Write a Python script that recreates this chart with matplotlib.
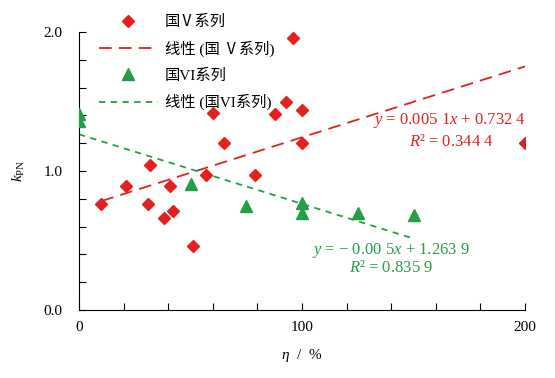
import matplotlib
matplotlib.use('agg')
import matplotlib.pyplot as plt
import numpy as np
from matplotlib.ticker import MultipleLocator

plt.rcParams['font.family'] = ['Liberation Serif', 'Noto Sans CJK SC']
plt.rcParams['mathtext.fontset'] = 'custom'
plt.rcParams['mathtext.rm'] = 'Liberation Serif'
plt.rcParams['mathtext.it'] = 'Liberation Serif:italic'

# data
v_eta = [10, 21, 31, 32, 38, 41, 42, 51, 57, 60, 65, 79, 88, 93, 96, 100, 100, 200]
v_k = [0.76, 0.89, 0.76, 1.04, 0.66, 0.89, 0.71, 0.46, 0.97, 1.42, 1.20, 0.97,
       1.41, 1.50, 1.96, 1.44, 1.20, 1.20]
vi_eta = [0, 0, 50, 75, 100, 100, 125, 150]
vi_k = [1.41, 1.36, 0.91, 0.75, 0.77, 0.70, 0.70, 0.68]

# fitted lines as printed on the chart
v_fit = (0.0051, 0.7324)
vi_fit = (-0.005, 1.2639)

red = '#E3201B'
green = '#23A047'

fig = plt.figure(figsize=(5.55, 3.78), dpi=100)
ax = fig.add_axes([79 / 555, 68 / 378, 446 / 555, 278 / 378])

ax.plot(v_eta, v_k, 'D', color=red, markersize=6, linestyle='none',
        label='国Ⅴ系列', zorder=3)
xs = np.array([min(v_eta), max(v_eta)])
ax.plot(xs, v_fit[0] * xs + v_fit[1], color=red, linestyle=(0, (7, 4)),
        linewidth=1.3, label='线性 (国 Ⅴ系列)')
ax.plot(vi_eta, vi_k, '^', color=green, markersize=8.5, linestyle='none',
        label='国VI系列', zorder=3)
xs2 = np.array([min(vi_eta), max(vi_eta)])
ax.plot(xs2, vi_fit[0] * xs2 + vi_fit[1], color=green, linestyle=(0, (3.5, 3)),
        linewidth=1.3, label='线性 (国VI系列)')

ax.set_xlim(0, 200)
ax.set_ylim(0, 2.0)
ax.xaxis.set_major_locator(MultipleLocator(100))
ax.xaxis.set_minor_locator(MultipleLocator(20))
ax.yaxis.set_major_locator(MultipleLocator(1.0))
ax.yaxis.set_minor_locator(MultipleLocator(0.2))
ax.yaxis.set_major_formatter(lambda v, p: f'{v:.1f}')
ax.tick_params(which='both', direction='in', labelsize=11, width=0.8)
ax.tick_params(which='major', length=5)
ax.tick_params(which='minor', length=5)
ax.tick_params(axis='x', pad=8)
ax.tick_params(axis='y', pad=12)
for s in ['top', 'right']:
    ax.spines[s].set_visible(False)

ax.set_xlabel(r'$\eta$  /  %', fontsize=11, labelpad=9)
ax.set_ylabel(r'$k_{\rm PN}$', fontsize=11, labelpad=12)

ax.text(166, 1.36, r'$y$ = 0.005 1$x$ + 0.732 4', color=red, fontsize=12, ha='center', va='center')
ax.text(167, 1.21, r'$R$² = 0.344 4', color=red, fontsize=12, ha='center', va='center')
ax.text(140, 0.43, r'$y$ = − 0.00 5$x$ + 1.263 9', color=green, fontsize=12, ha='center', va='center')
ax.text(140, 0.30, r'$R$² = 0.835 9', color=green, fontsize=12, ha='center', va='center')

fig.legend(loc='upper left', bbox_to_anchor=(91 / 555, 1 - 7 / 378), frameon=False,
           fontsize=11, handlelength=3.9, labelspacing=0.75, borderpad=0,
           handletextpad=0.45, numpoints=1)

fig.savefig('out.png', dpi=100)
